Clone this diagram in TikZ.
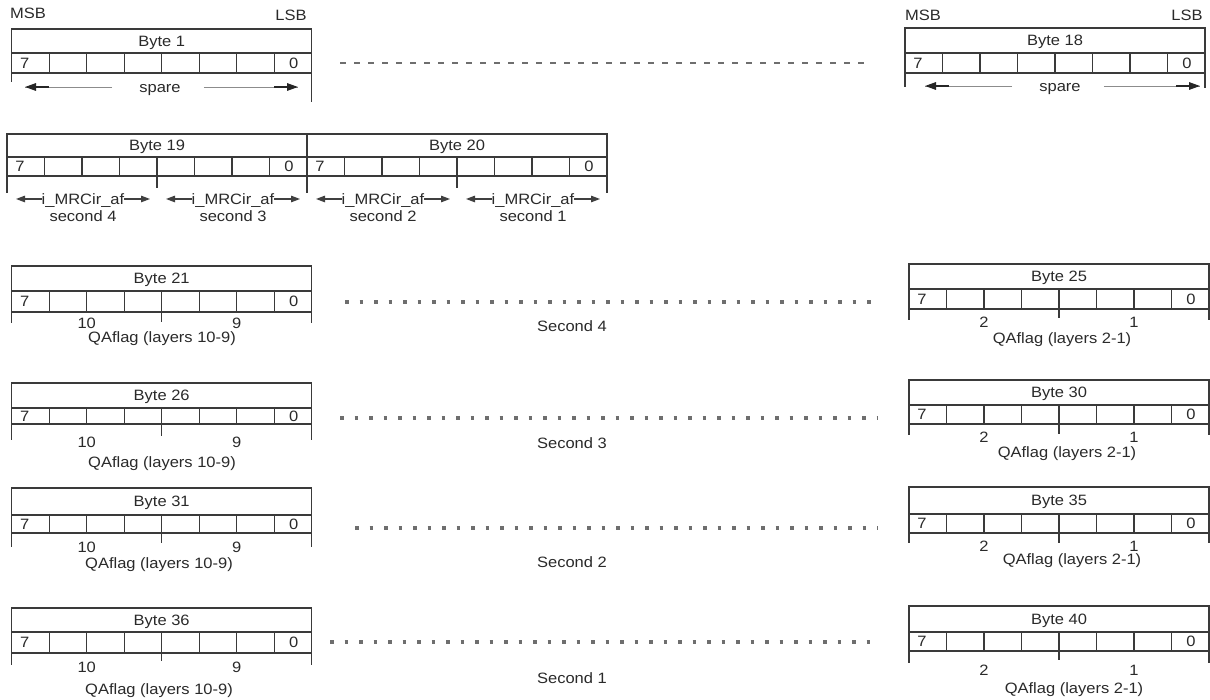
\documentclass[tikz,border=0pt]{standalone}
\usepackage{fontspec}
\setmainfont{Liberation Sans}[FakeStretch=1.1]
\usetikzlibrary{arrows.meta}
\definecolor{ink}{HTML}{3A3A3A}
\definecolor{dotgray}{HTML}{6E6E6E}
\definecolor{txtc}{HTML}{2A2A2A}
\newcommand{\bytebox}[6]{%
  \draw[boxl] (#2,#3) rectangle (#2+300,#5);
  \draw[boxl] (#2,#4) -- (#2+300,#4);
  \foreach \k in {1,...,7}{\draw[boxl] (#2+37.5*\k,#4) -- (#2+37.5*\k,#5);}
  \node[txt] (#1) at (#2+150,{(#3+#4)/2}) {#6};
  \node[txt] (#1-7) at (#2+13,{(#4+#5)/2}) {7};
  \node[txt] (#1-0) at (#2+282,{(#4+#5)/2}) {0};
}
\newcommand{\qaticks}[8]{% name, left x, bottom, tick end, mid tick end, label y, left label, right label
  \draw[boxl] (#2,#3) -- (#2,#4);
  \draw[boxl] (#2+150,#3) -- (#2+150,#5);
  \draw[boxl] (#2+300,#3) -- (#2+300,#4);
  \node[txt] (#1-a) at (#2+75,#6) {#7};
  \node[txt] (#1-b) at (#2+225,#6) {#8};
}
\begin{document}
\begin{tikzpicture}[x=1pt,y=-1pt,
  boxl/.style={draw=ink,line width=1.1pt},
  txt/.style={font=\fontsize{15}{17}\selectfont,text=txtc,inner sep=0pt,text height=10.8pt,text depth=0pt},
  dotrow/.style={dotgray,line width=3.2pt,dash pattern=on 3.8pt off 10.7pt},
  dashrow/.style={dotgray,line width=2.4pt,dash pattern=on 6pt off 8pt},
  thinline/.style={draw=black!45,line width=0.8pt},
  headarr/.style={draw=black!85,line width=1.5pt,-{Triangle[length=11pt,width=7.5pt]}},
  smallarr/.style={draw=black!75,line width=1.2pt,-{Triangle[length=9pt,width=6.5pt]}}]
\useasboundingbox (0,0) rectangle (1210,700);
\fill[white] (0,0) rectangle (1210,700);

% ---------- row 1 ----------
\node[txt] (msb1) at (28,13) {MSB};
\node[txt] (lsb1) at (291,15) {LSB};
\bytebox{B1}{11.7}{29}{53}{73}{Byte 1}
\draw[boxl] (11.7,73) -- (11.7,82);
\draw[boxl] (311.7,73) -- (311.7,102);
\node[txt] (sp1) at (160,87) {spare};
\coordinate (sp1L) at (25,87);
\coordinate (sp1R) at (298,87);
\draw[thinline] ([xshift=-27pt]sp1.west) -- (sp1L);
\draw[headarr] ([xshift=24pt]sp1L) -- (sp1L);
\draw[thinline] ([xshift=23pt]sp1.east) -- (sp1R);
\draw[headarr] ([xshift=-24pt]sp1R) -- (sp1R);

\node[txt] (msb18) at (923,15) {MSB};
\node[txt] (lsb18) at (1187,15) {LSB};
\bytebox{B18}{905}{28}{53}{73}{Byte 18}
\draw[boxl] (905,73) -- (905,87);
\draw[boxl] (1205,73) -- (1205,88);
\node[txt] (sp18) at (1060,86) {spare};
\coordinate (sp18L) at (925,86);
\coordinate (sp18R) at (1200,86);
\draw[thinline] ([xshift=-27pt]sp18.west) -- (sp18L);
\draw[headarr] ([xshift=24pt]sp18L) -- (sp18L);
\draw[thinline] ([xshift=23pt]sp18.east) -- (sp18R);
\draw[headarr] ([xshift=-24pt]sp18R) -- (sp18R);

\coordinate (d1a) at (340,63);
\coordinate (d1b) at (870,63);
\draw[dashrow] (d1a) -- (d1b);

% ---------- row 2 ----------
\bytebox{B19}{7}{134}{157}{176}{Byte 19}
\bytebox{B20}{307}{134}{157}{176}{Byte 20}
\draw[boxl] (7,176) -- (7,193);
\draw[boxl] (157,176) -- (157,188);
\draw[boxl] (307,176) -- (307,193);
\draw[boxl] (457,157) -- (457,188);
\draw[boxl] (607,176) -- (607,193);
\foreach \s/\n/\m in {7/i4/4,157/i3/3,307/i2/2,457/i1/1}{
  \node[txt] (\n) at (\s+76,199) {i\_MRCir\_af};
  \node[txt] (sec\n) at (\s+76,216) {second \m};
  \coordinate (\n L) at (\s+9,199);
  \coordinate (\n R) at (\s+143,199);
  \draw[smallarr] (\n.west) -- (\n L);
  \draw[smallarr] (\n.east) -- (\n R);
}

% ---------- row 3 ----------
\bytebox{B21}{11.7}{266}{291}{312}{Byte 21}
\qaticks{B21}{11.7}{312}{323}{322}{323}{10}{9}
\node[txt] (qa21) at (162,337) {QAflag (layers 10-9)};
\bytebox{B25}{909}{264}{289}{309}{Byte 25}
\qaticks{B25}{909}{309}{320}{318}{322}{2}{1}
\node[txt] (qa25) at (1062,338) {QAflag (layers 2-1)};
\coordinate (d3a) at (345,302);
\coordinate (d3b) at (878,302);
\draw[dotrow] (d3a) -- (d3b);
\node[txt] (s4) at (572,326) {Second 4};

% ---------- row 4 ----------
\bytebox{B26}{11.7}{383}{408}{424}{Byte 26}
\qaticks{B26}{11.7}{424}{440}{436}{442}{10}{9}
\node[txt] (qa26) at (162,462) {QAflag (layers 10-9)};
\bytebox{B30}{909}{380}{405}{424}{Byte 30}
\qaticks{B30}{909}{424}{435}{434}{437}{2}{1}
\node[txt] (qa30) at (1067,452) {QAflag (layers 2-1)};
\coordinate (d4a) at (340,418);
\coordinate (d4b) at (878,418);
\draw[dotrow] (d4a) -- (d4b);
\node[txt] (s3) at (572,443) {Second 3};

% ---------- row 5 ----------
\bytebox{B31}{11.7}{488}{515}{533}{Byte 31}
\qaticks{B31}{11.7}{533}{547}{543}{547}{10}{9}
\node[txt] (qa31) at (159,563) {QAflag (layers 10-9)};
\bytebox{B35}{909}{487}{514}{533}{Byte 35}
\qaticks{B35}{909}{533}{543}{543}{546}{2}{1}
\node[txt] (qa35) at (1072,559) {QAflag (layers 2-1)};
\coordinate (d5a) at (355,528);
\coordinate (d5b) at (878,528);
\draw[dotrow] (d5a) -- (d5b);
\node[txt] (s2) at (572,562) {Second 2};

% ---------- row 6 ----------
\bytebox{B36}{11.7}{608}{632}{653}{Byte 36}
\qaticks{B36}{11.7}{653}{665}{661}{667}{10}{9}
\node[txt] (qa36) at (159,689) {QAflag (layers 10-9)};
\bytebox{B40}{909}{606}{632}{651}{Byte 40}
\qaticks{B40}{909}{651}{663}{660}{670}{2}{1}
\node[txt] (qa40) at (1074,688) {QAflag (layers 2-1)};
\coordinate (d6a) at (330,642);
\coordinate (d6b) at (880,642);
\draw[dotrow] (d6a) -- (d6b);
\node[txt] (s1) at (572,678) {Second 1};
\end{tikzpicture}
\end{document}
